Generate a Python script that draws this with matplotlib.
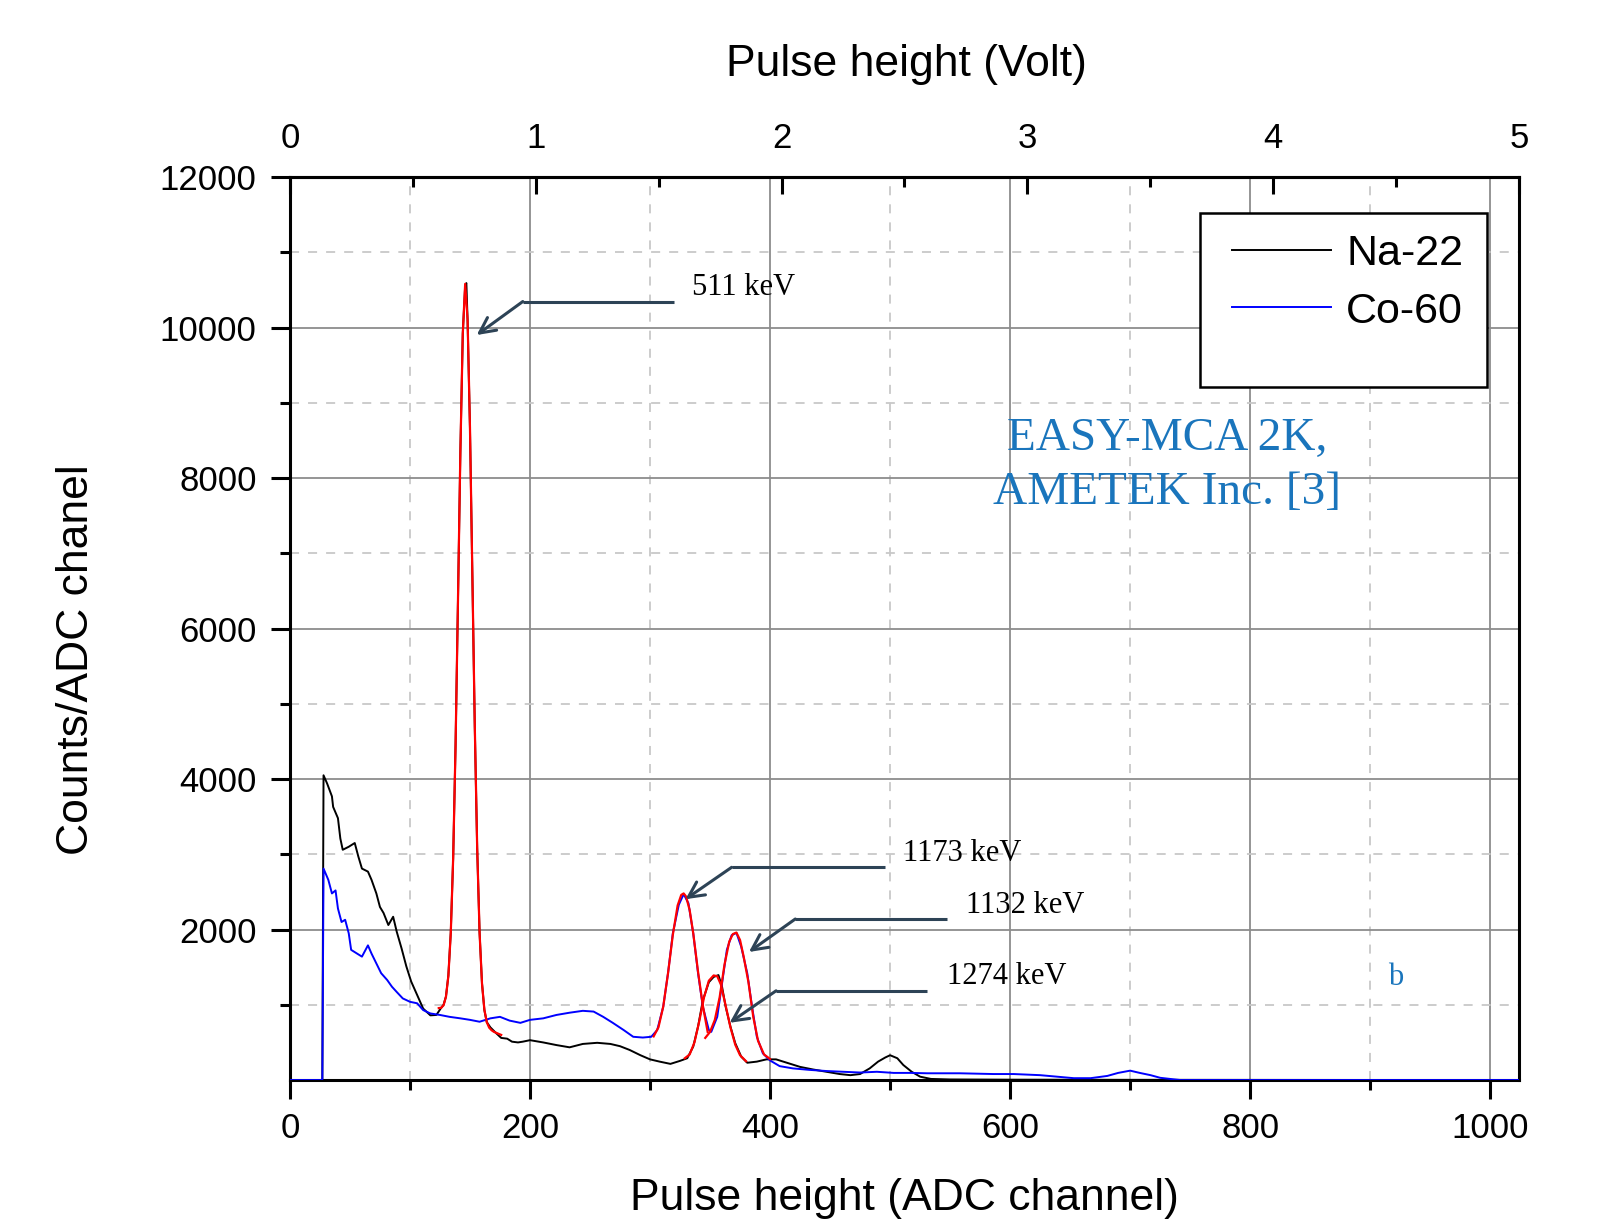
import matplotlib
matplotlib.use("Agg")
import matplotlib.pyplot as plt
from matplotlib.ticker import MultipleLocator
from matplotlib.patches import Rectangle

# Na-22 spectrum
na_ch = [0, 27, 28, 31, 35, 36, 40, 42, 44, 49, 54, 57, 60, 65, 68, 72, 75, 78, 82, 86,
         89, 93, 97, 101, 106, 111, 117, 122, 126, 128, 130, 132, 134, 136, 138, 140, 142, 144, 146, 147,
         148, 150, 152, 154, 156, 158, 160, 162, 164, 167, 172, 176, 181, 185, 190, 194, 200, 211, 222, 233,
         244, 256, 267, 275, 283, 292, 300, 308, 317, 325, 331, 336, 340, 344, 349, 353, 357, 360, 363, 367,
         371, 376, 381, 389, 397, 405, 414, 425, 436, 447, 458, 467, 475, 483, 490, 496, 500, 506, 511, 518,
         525, 534, 550, 600, 700, 800, 900, 1024]
na_counts = [0, 0, 4050, 3940, 3770, 3630, 3480, 3210, 3060, 3100, 3150, 2970, 2810, 2770, 2660, 2480, 2300, 2220, 2060, 2170,
             1970, 1750, 1510, 1310, 1130, 950, 860, 865, 960, 1000, 1110, 1390, 1960, 2950, 4460, 6370, 8350, 9920, 10560, 10590,
             10100, 8660, 6690, 4700, 3080, 1960, 1290, 930, 770, 700, 620, 560, 550, 510, 500, 510, 530, 500, 465, 435,
             480, 495, 480, 450, 400, 330, 275, 245, 215, 255, 290, 445, 710, 1060, 1300, 1370, 1395, 1240, 975, 710,
             490, 310, 230, 245, 275, 275, 230, 175, 140, 110, 80, 65, 80, 155, 245, 300, 330, 290, 200, 110,
             45, 15, 8, 5, 3, 2, 1, 0]

# Co-60 spectrum
co_ch = [0, 27, 28, 32, 35, 38, 40, 43, 46, 49, 51, 56, 60, 65, 68, 72, 76, 81, 85, 89,
         94, 100, 106, 111, 117, 125, 133, 142, 150, 158, 167, 175, 183, 192, 200, 211, 222, 233, 244, 253,
         261, 269, 278, 286, 294, 301, 306, 311, 315, 319, 324, 328, 332, 336, 340, 344, 349, 351, 356, 360,
         364, 368, 372, 376, 381, 385, 389, 394, 400, 408, 419, 433, 447, 461, 475, 489, 503, 517, 531, 558,
         586, 603, 625, 639, 653, 667, 681, 690, 700, 708, 717, 725, 736, 742, 800, 900, 1024]
co_counts = [0, 0, 2810, 2660, 2480, 2520, 2280, 2100, 2130, 1950, 1730, 1680, 1640, 1790, 1680, 1550, 1420, 1330, 1240, 1170,
             1085, 1040, 1020, 930, 885, 865, 840, 820, 800, 775, 820, 840, 790, 760, 800, 820, 865, 895, 920, 910,
             840, 760, 665, 575, 565, 575, 665, 975, 1420, 1950, 2330, 2470, 2350, 1950, 1420, 975, 665, 640, 840, 1285,
             1730, 1925, 1955, 1770, 1420, 975, 575, 355, 260, 185, 155, 135, 120, 110, 100, 110, 95, 95, 90, 90,
             80, 80, 65, 45, 25, 25, 55, 95, 125, 95, 65, 30, 10, 0, 0, 0, 0]

# peak fits (red)
fit_511_ch = [124, 126, 128, 130, 132, 134, 136, 138, 140, 142, 144, 146, 148, 150,
              152, 154, 156, 158, 160, 162, 164, 166, 168, 170, 172, 174, 176]
fit_511 = [956, 960, 994, 1108, 1384, 1954, 2953, 4456, 6368, 8350, 9915, 10580, 10108, 8667,
           6694, 4709, 3082, 1956, 1285, 934, 769, 696, 662, 640, 627, 613, 600]
fit_1173_ch = [303, 307, 311, 315, 319, 323, 326, 328, 330, 333, 336, 340, 344, 348]
fit_1173 = [580, 700, 975, 1420, 1930, 2320, 2460, 2480, 2440, 2260, 1950, 1440, 990, 640]
fit_1274_ch = [329, 333, 337, 341, 345, 349, 353, 356, 359, 363, 367, 371, 375, 380]
fit_1274 = [290, 340, 500, 780, 1100, 1320, 1390, 1380, 1270, 990, 700, 470, 330, 250]
fit_1332_ch = [346, 350, 354, 358, 362, 366, 369, 372, 375, 378, 382, 386, 390, 395, 400]
fit_1332 = [560, 640, 800, 1100, 1530, 1840, 1940, 1960, 1860, 1640, 1300, 840, 520, 340, 280]

# peak labels: text, text pos, line end, bend, arrow tip
peak_labels = ["511 keV", "1173 keV", "1132 keV", "1274 keV"]
label_xy = [(335, 10530), (511, 3010), (563, 2320), (547, 1375)]
line_end_x = [320, 496, 547, 531]
bend_xy = [(194, 10345), (368, 2827), (421, 2140), (405, 1186)]
tip_xy = [(155.6, 9900), (329.5, 2403), (382.4, 1702), (366.3, 761)]

sans = "Liberation Sans"
serif = "Liberation Serif"
plt.rcParams["font.family"] = sans

fig = plt.figure(figsize=(16.08, 12.24), dpi=100)
ax = fig.add_axes([0.1803, 0.1176, 0.7644, 0.7378])

ax.plot(na_ch, na_counts, color="black", lw=1.4, label="Na-22", zorder=3)
ax.plot(co_ch, co_counts, color="#0000ff", lw=1.4, label="Co-60", zorder=3)
for xs, ys in [(fit_511_ch, fit_511), (fit_1173_ch, fit_1173),
               (fit_1274_ch, fit_1274), (fit_1332_ch, fit_1332)]:
    ax.plot(xs, ys, color="#ff0000", lw=1.6, zorder=4)

arrow_col = "#2d4356"
for txt, (tx, ty), ex, (bx, by), (px, py) in zip(peak_labels, label_xy, line_end_x, bend_xy, tip_xy):
    ax.plot([bx, ex], [by, by], color=arrow_col, lw=2.2, zorder=5, solid_capstyle="butt")
    ax.annotate("", xy=(px, py), xytext=(bx, by),
                arrowprops=dict(arrowstyle="->", color=arrow_col, lw=2.2,
                                mutation_scale=28, shrinkA=0, shrinkB=0), zorder=5)
    ax.text(tx, ty, txt, fontsize=22, family=serif, ha="left", va="center", zorder=6)

ax.text(731, 8165, "EASY-MCA 2K,\nAMETEK Inc. [3]", color="#1a75bc", fontsize=34,
        family=serif, ha="center", va="center", linespacing=1.35)
ax.text(921, 1369, "b", color="#1a75bc", fontsize=22, family=serif, ha="center", va="center")

ax.set_xlim(0, 1024)
ax.set_ylim(0, 12000)
ax.xaxis.set_major_locator(MultipleLocator(200))
ax.xaxis.set_minor_locator(MultipleLocator(100))
ax.set_yticks(range(2000, 12001, 2000))
ax.set_yticks(range(1000, 12000, 2000), minor=True)

ax.set_axisbelow(True)
ax.grid(which="major", color="#8c8c8c", lw=1.3, ls="-")
ax.grid(which="minor", color="#c8c8c8", lw=1.3, ls=(0, (5, 5)))

for sp in ax.spines.values():
    sp.set_linewidth(2.2)
ax.tick_params(which="major", direction="out", length=14, width=2.2, labelsize=25,
               top=False, right=False)
ax.tick_params(which="minor", direction="out", length=7, width=2.2, top=False, right=False)
ax.tick_params(axis="x", which="major", pad=9)
ax.tick_params(axis="y", which="major", pad=10)

ax.set_xlabel("Pulse height (ADC channel)", fontsize=32)
ax.set_ylabel("Counts/ADC chanel", fontsize=32)
ax.xaxis.set_label_coords(0.5, -0.108)
ax.yaxis.set_label_coords(-0.157, 0.466)

sec = ax.secondary_xaxis("top", functions=(lambda c: c / 204.8, lambda v: v * 204.8))
sec.set_xticks(range(0, 6))
sec.xaxis.set_minor_locator(MultipleLocator(0.5))
sec.tick_params(which="major", direction="in", length=12, width=2.2, labelsize=25, pad=16)
sec.tick_params(which="minor", direction="in", length=7, width=2.2)
sec.spines["top"].set_linewidth(2.2)
fig.text(906 / 1608, 1 - 64.5 / 1224, "Pulse height (Volt)", fontsize=32, ha="center", va="center")

# legend box with empty space below the entries
ax.add_patch(Rectangle((0.7404, 0.7674), 0.2336, 0.1926, transform=ax.transAxes,
                       facecolor="white", edgecolor="black", lw=1.8, zorder=7))
leg = ax.legend(loc="upper left", bbox_to_anchor=(0.7665, 0.937), borderaxespad=0,
                fontsize=31, frameon=False, handlelength=2.3, handletextpad=0.35,
                labelspacing=0.41, borderpad=0)
leg.set_zorder(8)

fig.savefig("out.png", dpi=100)
